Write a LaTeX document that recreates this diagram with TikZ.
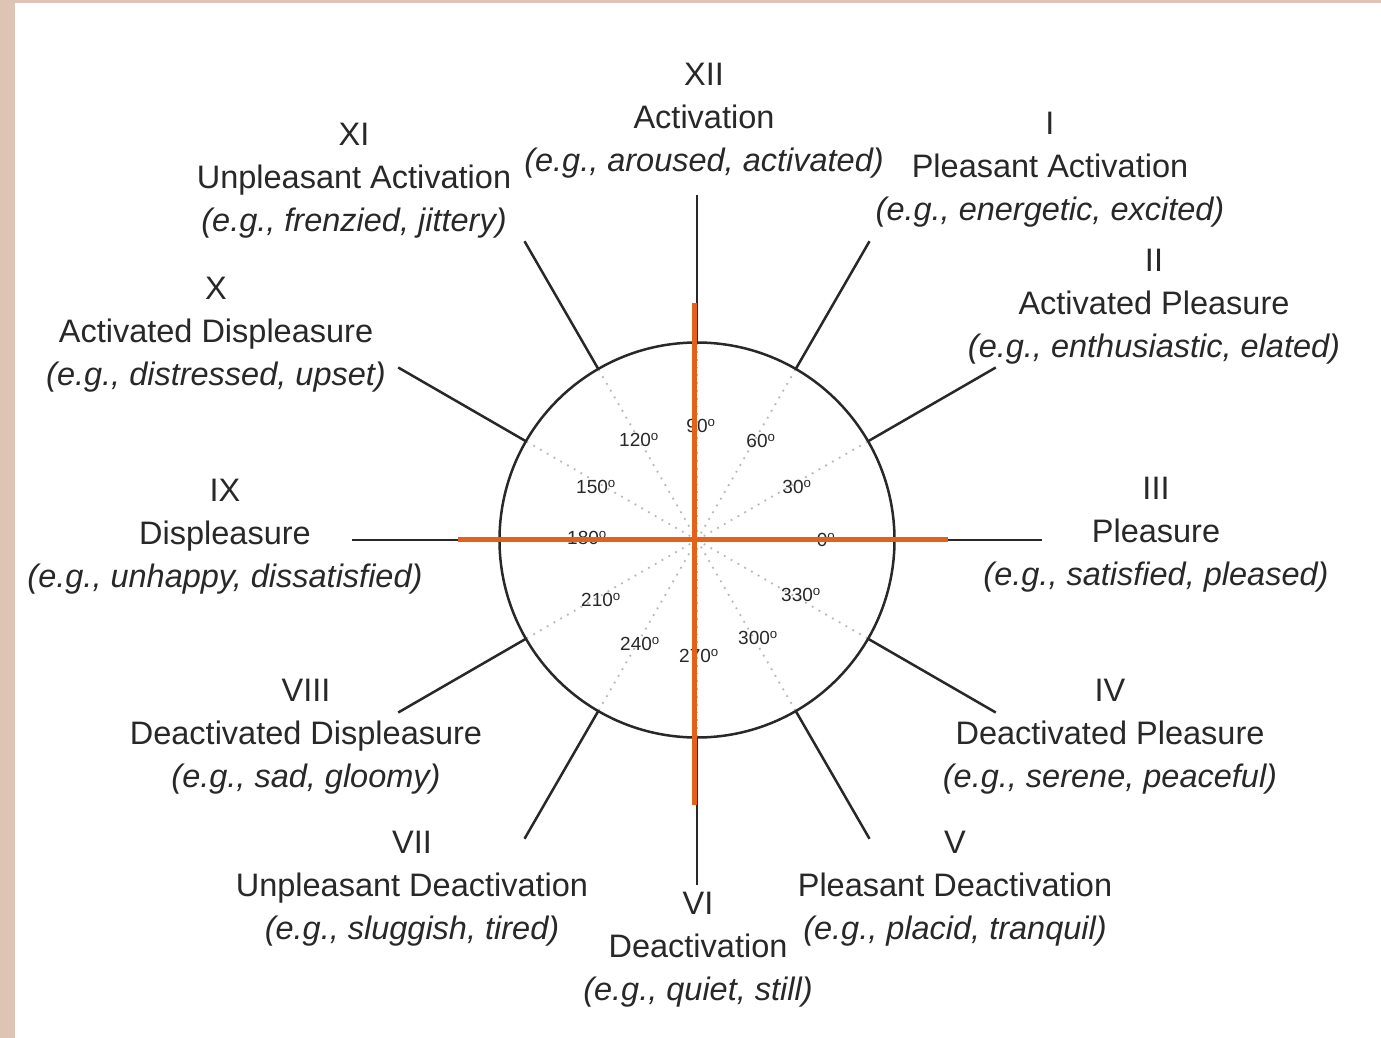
\documentclass[tikz,border=0pt]{standalone}
\usepackage{fontspec}
\setmainfont{Liberation Sans}
\definecolor{tanframe}{RGB}{222,196,180}
\definecolor{ink}{RGB}{40,40,40}
\definecolor{axisorange}{RGB}{226,98,26}
\tikzset{
  lbl/.style={align=center, text=ink, font=\fontsize{32.5}{43}\selectfont, inner sep=0pt},
  deg/.style={text=ink, font=\fontsize{19}{21}\selectfont, inner sep=0pt},
  spoke/.style={draw=ink, line width=2.5pt},
  dots/.style={draw=gray!55, line width=1.8pt, dash pattern=on 1.8pt off 6pt},
  axisline/.style={draw=axisorange, line width=5pt},
}
\begin{document}
\begin{tikzpicture}[x=1pt,y=-1pt]
\useasboundingbox (0,0) rectangle (1381,1038);
\fill[white] (0,0) rectangle (1381,1038);
\fill[tanframe] (0,0) rectangle (15,1038);
\fill[tanframe] (0,0) rectangle (1381,3);

\coordinate (ctr) at (697,540);
% dotted radii
\foreach \a in {0,30,...,330}
  \draw[dots] (ctr) -- ([shift={(\a:196pt)}]ctr);
% circle
\node[circle, draw=ink, line width=2.5pt, minimum size=395pt, inner sep=0pt, outer sep=0pt] (c) at (ctr) {};
% spokes
\foreach \a in {0,30,...,330} {
  \coordinate (s\a) at ([shift={(\a:345pt)}]ctr);
  \draw[spoke] (c.\a) -- (s\a);
}

% degree labels
\node[deg] (d0)   at (826,540) {0\textsuperscript{o}};
\node[deg] (d30)  at (797,487) {30\textsuperscript{o}};
\node[deg] (d60)  at (761,441) {60\textsuperscript{o}};
\node[deg] (d90)  at (701,426) {90\textsuperscript{o}};
\node[deg] (d120) at (639,440) {120\textsuperscript{o}};
\node[deg] (d150) at (596,487) {150\textsuperscript{o}};
\node[deg] (d180) at (587,538) {180\textsuperscript{o}};
\node[deg] (d210) at (601,600) {210\textsuperscript{o}};
\node[deg] (d240) at (640,644) {240\textsuperscript{o}};
\node[deg] (d270) at (699,656) {270\textsuperscript{o}};
\node[deg] (d300) at (758,638) {300\textsuperscript{o}};
\node[deg] (d330) at (801,595) {330\textsuperscript{o}};

% orange axes
\coordinate (vt) at (694,303);
\coordinate (vb) at (694,805);
\coordinate (hl) at (458,539);
\coordinate (hr) at (948,539);
\draw[axisline] (vt) -- (vb);
\draw[axisline] (hl) -- (hr);

% labels
\node[lbl] (l12) at (704,121) {XII\\Activation\\\textit{(e.g., aroused, activated)}};
\node[lbl] (l11) at (354,181) {XI\\Unpleasant Activation\\\textit{(e.g., frenzied, jittery)}};
\node[lbl] (l1)  at (1050,170) {I\\Pleasant Activation\\\textit{(e.g., energetic, excited)}};
\node[lbl] (l2)  at (1154,307) {II\\Activated Pleasure\\\textit{(e.g., enthusiastic, elated)}};
\node[lbl] (l10) at (216,335) {X\\Activated Displeasure\\\textit{(e.g., distressed, upset)}};
\node[lbl] (l9)  at (225,537) {IX\\Displeasure\\\textit{(e.g., unhappy, dissatisfied)}};
\node[lbl] (l3)  at (1156,535) {III\\Pleasure\\\textit{(e.g., satisfied, pleased)}};
\node[lbl] (l8)  at (306,737) {VIII\\Deactivated Displeasure\\\textit{(e.g., sad, gloomy)}};
\node[lbl] (l4)  at (1110,737) {IV\\Deactivated Pleasure\\\textit{(e.g., serene, peaceful)}};
\node[lbl] (l7)  at (412,889) {VII\\Unpleasant Deactivation\\\textit{(e.g., sluggish, tired)}};
\node[lbl] (l5)  at (955,889) {V\\Pleasant Deactivation\\\textit{(e.g., placid, tranquil)}};
\node[lbl] (l6)  at (698,950) {VI\\Deactivation\\\textit{(e.g., quiet, still)}};
\end{tikzpicture}
\end{document}
